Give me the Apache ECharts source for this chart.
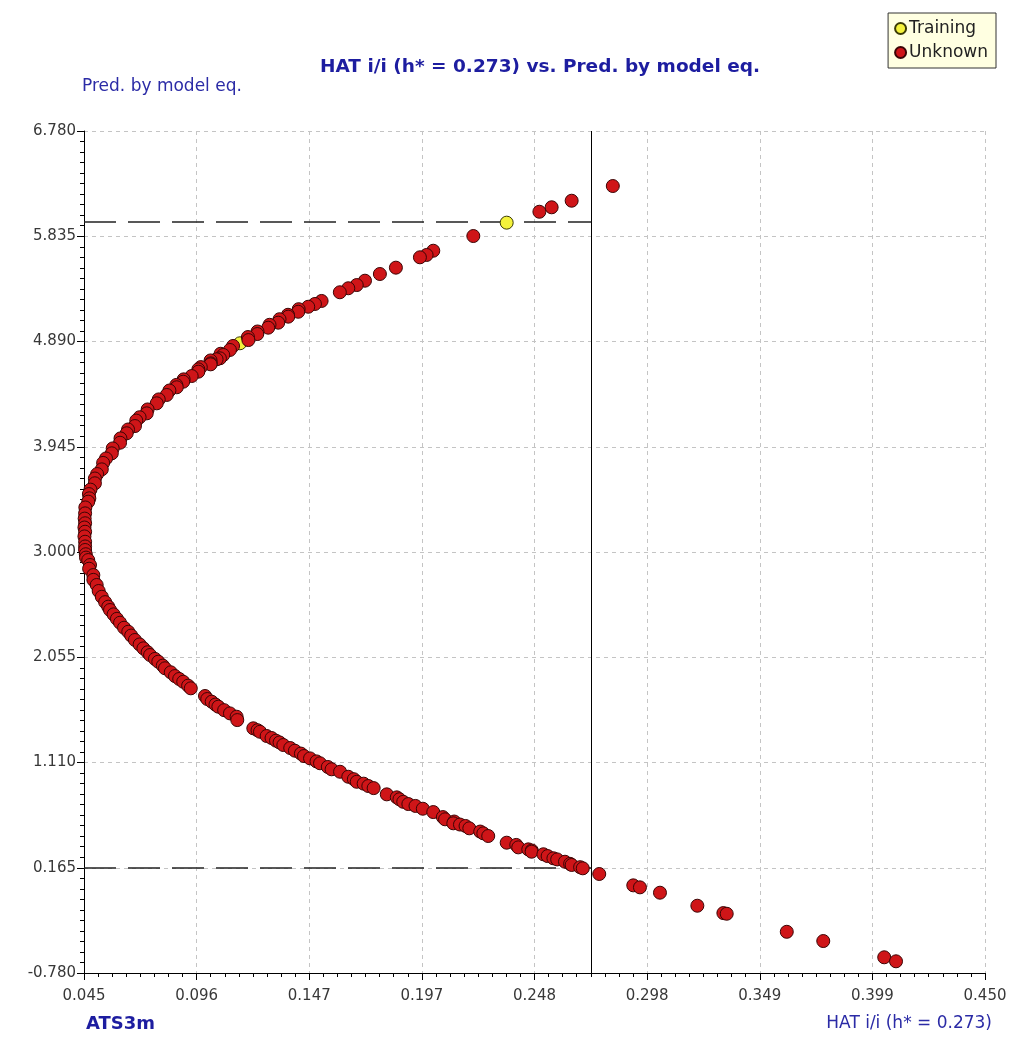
<!DOCTYPE html>
<html>
<head>
<meta charset="utf-8">
<title>HAT i/i vs. Pred. by model eq.</title>
<script src="https://cdn.jsdelivr.net/npm/echarts@6/dist/echarts.min.js"></script>
<style>
  html, body { margin: 0; padding: 0; background: #ffffff; }
  #chart { width: 1016px; height: 1054px; }
</style>
</head>
<body>
<div id="chart"></div>
<script>
// Williams-type plot: leverage (HAT i/i) against the value predicted by the model equation.

// Axis range and tick labels
const xMin = 0.045, xMax = 0.450;
const yMin = -0.780, yMax = 6.780;
const xTickLabels = ['0.045', '0.096', '0.147', '0.197', '0.248', '0.298', '0.349', '0.399', '0.450'];
const yTickLabels = ['-0.780', '0.165', '1.110', '2.055', '3.000', '3.945', '4.890', '5.835', '6.780'];

// Warning leverage and the prediction limits drawn as reference lines
const hStar = 0.273;
const predUpperLimit = 5.963;
const predLowerLimit = 0.163;

// Training compounds
const trainingHat  = [0.235, 0.1151];
const trainingPred = [5.957, 4.874];

// Unknown (prediction set) compounds
const unknownHat = [
  0.2827, 0.2642, 0.2552, 0.2497, 0.2200, 0.2020, 0.1990, 0.1960, 0.1852, 0.1780,
  0.1713, 0.1676, 0.1638, 0.1600, 0.1518, 0.1488, 0.1458, 0.1415, 0.1413, 0.1367,
  0.1368, 0.1329, 0.1323, 0.1284, 0.1278, 0.1230, 0.1229, 0.1187, 0.1189, 0.1120,
  0.1106, 0.1064, 0.1076, 0.1061, 0.1046, 0.1019, 0.1020, 0.1019, 0.0975, 0.0964,
  0.0964, 0.0934, 0.0898, 0.0896, 0.0865, 0.0867, 0.0834, 0.0822, 0.0786, 0.0777,
  0.0736, 0.0732, 0.0700, 0.0685, 0.0679, 0.0648, 0.0642, 0.0614, 0.0612, 0.0579,
  0.0575, 0.0549, 0.0536, 0.0530, 0.0509, 0.0499, 0.0499, 0.0479, 0.0472, 0.0474,
  0.0469, 0.0456, 0.0455, 0.0453, 0.0455, 0.0452, 0.0455, 0.0452, 0.0455, 0.0455,
  0.0455, 0.0458, 0.0459, 0.0469, 0.0477, 0.0473, 0.0492, 0.0492, 0.0507, 0.0516,
  0.0530, 0.0545, 0.0559, 0.0567, 0.0583, 0.0598, 0.0612, 0.0630, 0.0649, 0.0662,
  0.0679, 0.0700, 0.0717, 0.0736, 0.0747, 0.0769, 0.0784, 0.0804, 0.0814, 0.0840,
  0.0859, 0.0878, 0.0896, 0.0918, 0.0930, 0.0994, 0.1004, 0.1024, 0.1041, 0.1054,
  0.1080, 0.1106, 0.1136, 0.1139, 0.1211, 0.1230, 0.1241, 0.1271, 0.1293, 0.1313,
  0.1329, 0.1346, 0.1377, 0.1398, 0.1425, 0.1439, 0.1466, 0.1495, 0.1511, 0.1546,
  0.1563, 0.1601, 0.1638, 0.1663, 0.1676, 0.1707, 0.1728, 0.1752, 0.1811, 0.1856,
  0.1868, 0.1885, 0.1908, 0.1940, 0.1973, 0.2020, 0.2063, 0.2073, 0.2114, 0.2110,
  0.2140, 0.2165, 0.2182, 0.2231, 0.2245, 0.2267, 0.2350, 0.2393, 0.2402, 0.2447,
  0.2463, 0.2462, 0.2515, 0.2534, 0.2560, 0.2577, 0.2612, 0.2635, 0.2642, 0.2680,
  0.2692, 0.2766, 0.2919, 0.2949, 0.3039, 0.3207, 0.3324, 0.3339, 0.3609, 0.3773,
  0.4047, 0.4100
];
const unknownPred = [
  6.286, 6.154, 6.095, 6.055, 5.837, 5.705, 5.667, 5.646, 5.553, 5.496,
  5.436, 5.397, 5.368, 5.332, 5.254, 5.227, 5.202, 5.180, 5.157, 5.130,
  5.113, 5.090, 5.059, 5.040, 5.014, 4.980, 4.957, 4.930, 4.903, 4.850,
  4.814, 4.780, 4.769, 4.739, 4.730, 4.720, 4.694, 4.685, 4.660, 4.640,
  4.619, 4.580, 4.550, 4.529, 4.500, 4.479, 4.450, 4.410, 4.370, 4.335,
  4.280, 4.245, 4.210, 4.180, 4.131, 4.100, 4.066, 4.020, 3.981, 3.930,
  3.886, 3.840, 3.800, 3.742, 3.700, 3.660, 3.617, 3.560, 3.520, 3.482,
  3.452, 3.400, 3.347, 3.300, 3.258, 3.220, 3.182, 3.140, 3.092, 3.050,
  3.018, 2.980, 2.950, 2.928, 2.883, 2.850, 2.793, 2.750, 2.704, 2.650,
  2.598, 2.550, 2.509, 2.479, 2.440, 2.400, 2.365, 2.320, 2.284, 2.250,
  2.210, 2.170, 2.135, 2.100, 2.075, 2.040, 2.015, 1.980, 1.956, 1.920,
  1.886, 1.860, 1.835, 1.800, 1.776, 1.707, 1.680, 1.656, 1.630, 1.611,
  1.580, 1.551, 1.521, 1.491, 1.417, 1.400, 1.386, 1.348, 1.330, 1.306,
  1.290, 1.267, 1.240, 1.216, 1.190, 1.168, 1.147, 1.120, 1.103, 1.070,
  1.049, 1.027, 0.982, 0.960, 0.937, 0.920, 0.899, 0.880, 0.824, 0.797,
  0.780, 0.757, 0.737, 0.720, 0.695, 0.665, 0.620, 0.600, 0.580, 0.564,
  0.553, 0.540, 0.519, 0.490, 0.474, 0.450, 0.390, 0.370, 0.348, 0.330,
  0.320, 0.309, 0.286, 0.270, 0.250, 0.240, 0.219, 0.200, 0.190, 0.170,
  0.160, 0.109, 0.007, -0.011, -0.059, -0.176, -0.242, -0.248, -0.410, -0.493,
  -0.639, -0.675
];

const pairs = (xs, ys) => xs.map((x, i) => [x, ys[i]]);

const tickFont = { fontFamily: 'DejaVu Sans', fontSize: 15, color: '#383838' };
const nameColor = '#2b2ba6';

const chart = echarts.init(document.getElementById('chart'), null, { renderer: 'canvas' });

chart.setOption({
  animation: false,
  backgroundColor: '#ffffff',
  grid: { left: 84, right: 31, top: 131, bottom: 81, containLabel: false },
  // Axis 0 carries the ticks, labels and grid; axis 1 carries the data scale.
  xAxis: [
    {
      type: 'value', min: 0, max: xTickLabels.length - 1, interval: 1,
      axisLine: { show: true, lineStyle: { color: '#000', width: 1 } },
      axisTick: { show: true, length: 7, lineStyle: { color: '#000' } },
      minorTick: { show: true, splitNumber: 8, length: 4, lineStyle: { color: '#000' } },
      axisLabel: { margin: 16, formatter: v => xTickLabels[v], ...tickFont },
      splitLine: { show: true, lineStyle: { color: '#c4c4c4', type: [4, 4], width: 1 } }
    },
    { type: 'value', min: xMin, max: xMax, show: false, splitLine: { show: false } }
  ],
  yAxis: [
    {
      type: 'value', min: 0, max: yTickLabels.length - 1, interval: 1,
      axisLine: { show: true, lineStyle: { color: '#000', width: 1 } },
      axisTick: { show: true, length: 7, lineStyle: { color: '#000' } },
      minorTick: { show: true, splitNumber: 10, length: 4, lineStyle: { color: '#000' } },
      axisLabel: { margin: 8, formatter: v => yTickLabels[v], ...tickFont },
      splitLine: { show: true, lineStyle: { color: '#c4c4c4', type: [4, 4], width: 1 } }
    },
    { type: 'value', min: yMin, max: yMax, show: false, splitLine: { show: false } }
  ],
  legend: {
    data: ['Training', 'Unknown'],
    orient: 'vertical',
    right: 20, top: 13,
    backgroundColor: '#ffffe1',
    borderColor: '#333',
    borderWidth: 1,
    borderRadius: 0,
    padding: [7, 8, 7, 6],
    itemGap: 7,
    itemWidth: 11, itemHeight: 11,
    icon: 'circle',
    textStyle: { fontFamily: 'DejaVu Sans', fontSize: 17, color: '#222', padding: [0, 0, 0, -2] }
  },
  series: [
    {
      name: 'Training',
      type: 'scatter',
      xAxisIndex: 1, yAxisIndex: 1,
      symbolSize: 13,
      itemStyle: { color: '#f4f23c', borderColor: '#3b3b05', borderWidth: 1, opacity: 1 },
      data: pairs(trainingHat, trainingPred),
      z: 2
    },
    {
      name: 'Unknown',
      type: 'scatter',
      xAxisIndex: 1, yAxisIndex: 1,
      symbolSize: 13,
      itemStyle: { color: '#cf1518', borderColor: '#3b0505', borderWidth: 1, opacity: 1 },
      data: pairs(unknownHat, unknownPred),
      z: 3,
      markLine: {
        silent: true,
        symbol: 'none',
        label: { show: false },
        animation: false,
        z: 1,
        data: [
          [{ coord: [hStar, yMin], lineStyle: { color: '#000', width: 1, type: 'solid' } },
           { coord: [hStar, yMax] }],
          [{ coord: [xMin, predUpperLimit], lineStyle: { color: '#222', width: 1.5, type: [32, 12] } },
           { coord: [hStar, predUpperLimit] }],
          [{ coord: [xMin, predLowerLimit], lineStyle: { color: '#222', width: 1.5, type: [32, 12] } },
           { coord: [hStar, predLowerLimit] }]
        ]
      }
    }
  ],
  graphic: [
    {
      type: 'text', x: 540, y: 67,
      style: {
        text: 'HAT i/i (h* = 0.273) vs. Pred. by model eq.',
        font: 'bold 18.5px "DejaVu Sans"', fill: '#1d1da0',
        textAlign: 'center', textVerticalAlign: 'middle'
      }
    },
    {
      type: 'text', x: 82, y: 87,
      style: {
        text: 'Pred. by model eq.',
        font: '17px "DejaVu Sans"', fill: nameColor,
        textAlign: 'left', textVerticalAlign: 'middle'
      }
    },
    {
      type: 'text', x: 86, y: 1024,
      style: {
        text: 'ATS3m',
        font: 'bold 18px "DejaVu Sans"', fill: '#1d1da0',
        textAlign: 'left', textVerticalAlign: 'middle'
      }
    },
    {
      type: 'text', x: 992, y: 1024,
      style: {
        text: 'HAT i/i (h* = 0.273)',
        font: '17px "DejaVu Sans"', fill: nameColor,
        textAlign: 'right', textVerticalAlign: 'middle'
      }
    }
  ]
});
</script>
</body>
</html>
